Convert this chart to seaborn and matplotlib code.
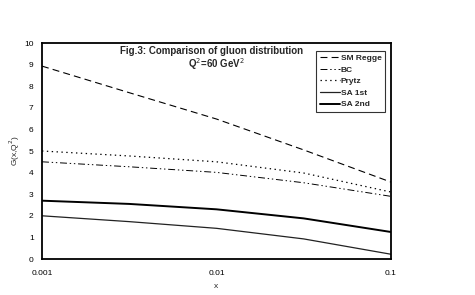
import matplotlib
matplotlib.use("Agg")
import matplotlib.pyplot as plt
import seaborn as sns
import numpy as np

x_vals = [0.001, 0.00316, 0.01, 0.0316, 0.1]
sm_regge = [8.93, 7.70, 6.48, 5.05, 3.56]
bc = [4.50, 4.27, 4.01, 3.53, 2.90]
prytz = [5.00, 4.77, 4.50, 3.98, 3.10]
sa_1st = [2.00, 1.73, 1.42, 0.93, 0.22]
sa_2nd = [2.70, 2.55, 2.30, 1.88, 1.25]
series_names = ["SM Regge", "BC", "Prytz", "SA 1st", "SA 2nd"]
x_ticks = [0.001, 0.01, 0.1]
x_tick_labels = ["0.001", "0.01", "0.1"]
y_ticks = list(range(0, 11))

sns.set_theme(style="white")
plt.rcParams['font.family'] = ['Liberation Sans', 'DejaVu Sans']
plt.rcParams['lines.scale_dashes'] = False

fig = plt.figure(figsize=(4.75, 2.95), dpi=100)
ax = fig.add_axes([42/475, 1-259/295, (391-42)/475, (259-43)/295])

styles = [
    dict(color="black", lw=0.8, dashes=(5, 3)),
    dict(color="black", lw=0.7, dashes=(5, 2, 1, 2, 1, 2)),
    dict(color="black", lw=0.9, dashes=(1, 2.5)),
    dict(color="#222222", lw=0.9, dashes=None),
    dict(color="black", lw=1.4, dashes=None),
]
data = [sm_regge, bc, prytz, sa_1st, sa_2nd]
for name, vals, st in zip(series_names, data, styles):
    sns.lineplot(x=x_vals, y=vals, ax=ax, color=st["color"], linewidth=st["lw"], label=name)
    line = ax.lines[-1]
    if st["dashes"] is not None:
        line.set_dashes(st["dashes"])

ax.set_xscale("log")
ax.set_xlim(0.001, 0.1)
ax.set_ylim(0, 10)
ax.set_xticks(x_ticks)
ax.set_xticklabels(x_tick_labels)
ax.minorticks_off()
ax.set_yticks(y_ticks)
ax.tick_params(axis="both", direction="in", length=2, width=0.6, labelsize=6, pad=6, colors="black")
ax.tick_params(axis="x", pad=8)
for sp in ax.spines.values():
    sp.set_color("black")
    sp.set_linewidth(1.3)

ax.set_xlabel("x", fontsize=6)
ax.set_ylabel("G(x,Q$^2$)", fontsize=6)
ax.yaxis.set_label_coords((22-42)/349, 0.5)
ax.xaxis.set_label_coords((216-42)/349, (259-283)/216)

ax.text((212-42)/349, (259-51)/216, "Fig.3: Comparison of gluon distribution",
        transform=ax.transAxes, ha="center", va="center", fontsize=7, fontweight="bold")
ax.text((216-42)/349, (259-64)/216, "Q$^2$=60 GeV$^2$",
        transform=ax.transAxes, ha="center", va="center", fontsize=7, fontweight="bold")

leg = ax.legend(loc="upper right", bbox_to_anchor=((385-42)/349, (259-51)/216),
                borderaxespad=0, fontsize=6, frameon=True, fancybox=False,
                handlelength=2.4, handletextpad=0.15, labelspacing=0.45,
                borderpad=0.4)
leg.get_frame().set_edgecolor("black")
leg.get_frame().set_linewidth(0.8)
for t in leg.get_texts():
    t.set_fontweight("bold")

fig.savefig("out.png", dpi=100)
